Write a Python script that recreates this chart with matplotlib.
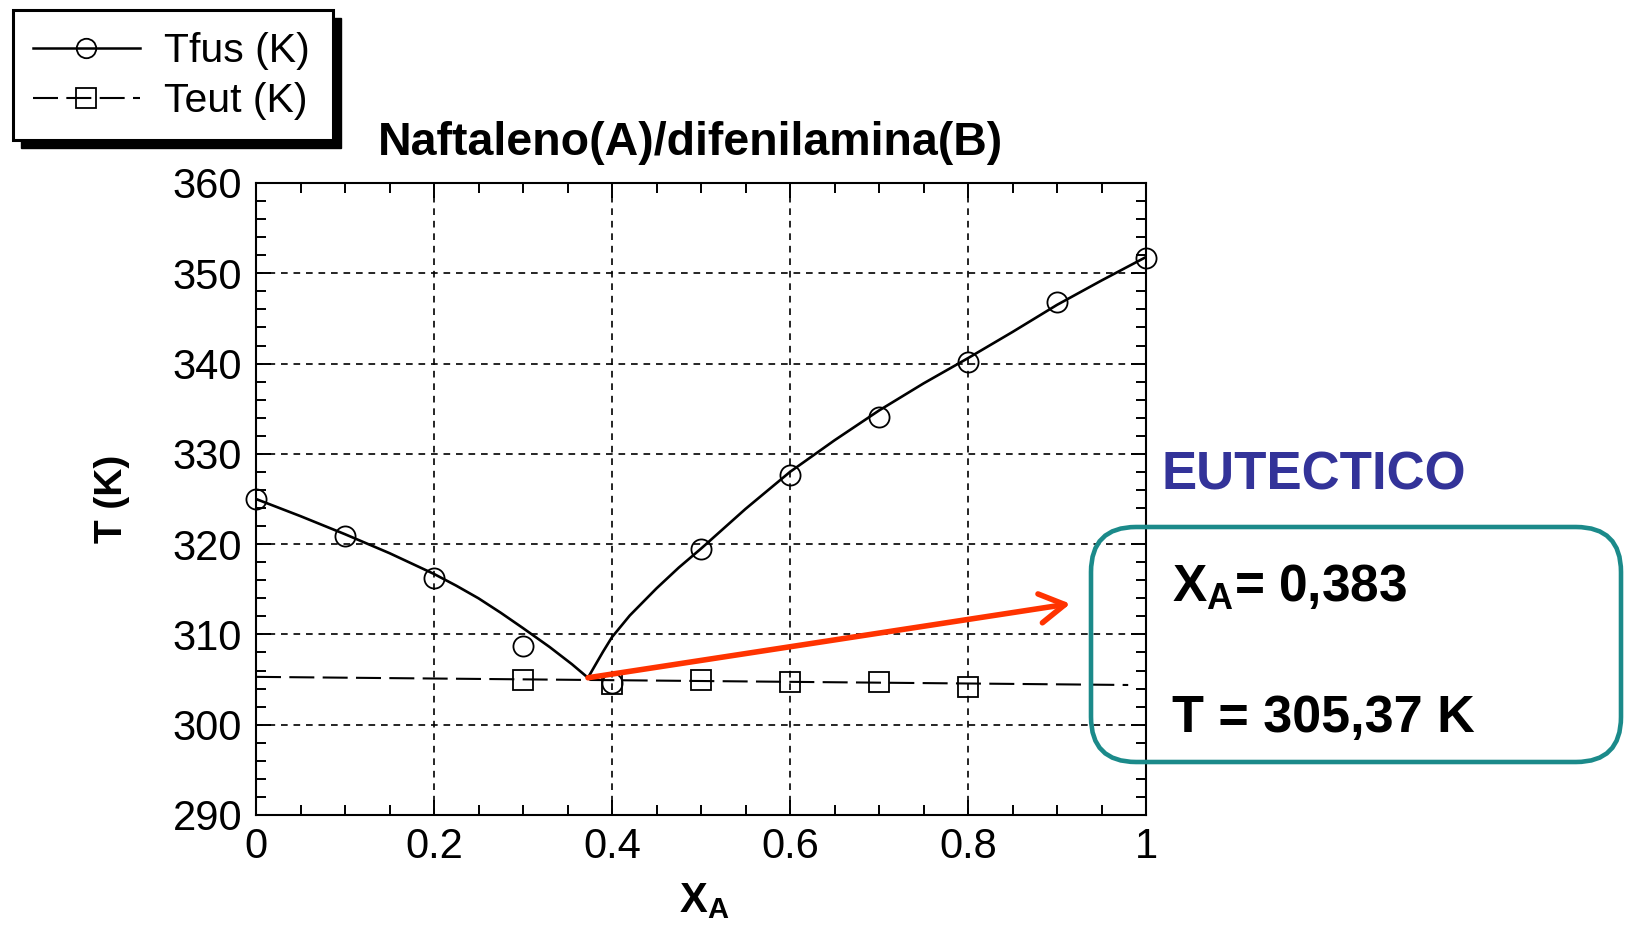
import matplotlib
matplotlib.use('Agg')
import matplotlib.pyplot as plt
from matplotlib.lines import Line2D
from matplotlib.patches import Rectangle, FancyBboxPatch
from matplotlib.ticker import MultipleLocator

plt.rcParams['font.family'] = ['Liberation Sans', 'DejaVu Sans']
plt.rcParams['mathtext.fontset'] = 'custom'
plt.rcParams['mathtext.rm'] = 'Liberation Sans'
plt.rcParams['mathtext.bf'] = 'Liberation Sans:bold'

# experimental melting points (circles)
xA_fus = [0.0, 0.1, 0.2, 0.3, 0.4, 0.5, 0.6, 0.7, 0.8, 0.9, 1.0]
T_fus = [325.0, 320.9, 316.2, 308.7, 304.6, 319.5, 327.7, 334.1, 340.2, 346.8, 351.7]

# eutectic temperatures (squares)
xA_eut = [0.3, 0.4, 0.5, 0.6, 0.7, 0.8]
T_eut = [305.0, 304.5, 305.0, 304.7, 304.7, 304.2]

# liquidus curves
xA_left = [0.0, 0.05, 0.1, 0.15, 0.2, 0.225, 0.25, 0.275, 0.3, 0.33, 0.355, 0.373]
T_left = [325.0, 323.1, 321.1, 319.0, 316.7, 315.4, 314.0, 312.4, 310.7, 308.6, 306.7, 305.2]
xA_right = [0.373, 0.38, 0.39, 0.4, 0.42, 0.45, 0.475, 0.5, 0.55, 0.6, 0.65, 0.7,
            0.75, 0.8, 0.85, 0.9, 0.95, 1.0]
T_right = [305.2, 306.4, 308.1, 309.7, 312.1, 315.1, 317.4, 319.5, 323.9, 328.0, 331.5, 334.8,
           337.8, 340.6, 343.5, 346.5, 349.2, 351.8]

# eutectic line
xA_eline = [0.0, 0.98]
T_eline = [305.3, 304.4]

# arrow from eutectic point to the text box
arrow_from = (0.373, 305.2)
arrow_to = (0.915, 313.4)

xticks = [0, 0.2, 0.4, 0.6, 0.8, 1.0]
xtick_labels = ['0', '0.2', '0.4', '0.6', '0.8', '1']
yticks = [290, 300, 310, 320, 330, 340, 350, 360]

W, H = 1626, 932
fig = plt.figure(figsize=(W / 100, H / 100), dpi=100)


def fx(px):
    return px / W


def fy(py):
    return 1 - py / H


ax = fig.add_axes([fx(256), fy(815), fx(1146) - fx(256), fy(183) - fy(815)])

teut_dash = (12, 4)
ax.plot(xA_left, T_left, color='black', lw=1.9, solid_joinstyle='round')
ax.plot(xA_right, T_right, color='black', lw=1.9, solid_joinstyle='round')
ax.plot(xA_eline, T_eline, color='black', lw=1.5, dashes=teut_dash)
ax.plot(xA_fus, T_fus, 'o', ms=14.5, mfc='none', mec='black', mew=1.3, clip_on=False)
ax.plot(xA_eut, T_eut, 's', ms=14.5, mfc='none', mec='black', mew=1.3)

ax.annotate('', xy=arrow_to, xytext=arrow_from,
            arrowprops=dict(arrowstyle='->,head_length=0.6,head_width=0.35',
                            color='#ff3300', lw=4, mutation_scale=30,
                            shrinkA=0, shrinkB=0, capstyle='round', joinstyle='round'),
            annotation_clip=False)

ax.set_xlim(0, 1)
ax.set_ylim(290, 360)
ax.set_xticks(xticks)
ax.set_xticklabels(xtick_labels)
ax.set_yticks(yticks)
ax.xaxis.set_minor_locator(MultipleLocator(0.05))
ax.yaxis.set_minor_locator(MultipleLocator(2))
ax.tick_params(which='both', direction='in', top=True, right=True, width=1.4)
ax.tick_params(which='major', length=11, labelsize=30)
ax.tick_params(which='minor', length=7)
ax.tick_params(axis='x', pad=9)
ax.tick_params(axis='y', pad=10)
for s in ax.spines.values():
    s.set_linewidth(1.5)
ax.grid(True, which='major', color='black', lw=1.2, dashes=(4, 3.5))

ax.set_ylabel('T (K)', fontsize=28, fontweight='bold')
ax.yaxis.set_label_coords(-0.142, 0.5)

fig.text(fx(679), fy(912), r'$\mathbf{X}_\mathbf{A}$', fontsize=30, ha='left', va='baseline')
fig.text(fx(690), fy(155), 'Naftaleno(A)/difenilamina(B)', fontsize=33.5,
         fontweight='bold', ha='center', va='baseline')

# legend with a drop shadow, as in the scanned original
fig.add_artist(Rectangle((fx(21), fy(148)), fx(333) - fx(13), fy(10) - fy(140),
                         transform=fig.transFigure, fc='black', ec='black', zorder=1))
fig.add_artist(Rectangle((fx(13), fy(140)), fx(333) - fx(13), fy(10) - fy(140),
                         transform=fig.transFigure, fc='white', ec='black', lw=2.2, zorder=2))
handles = [
    Line2D([], [], color='black', lw=1.8, marker='o', ms=14, mfc='none', mec='black', mew=1.3),
    Line2D([], [], color='black', lw=1.5, dashes=teut_dash, marker='s', ms=14, mfc='none', mec='black', mew=1.3),
]
fig.legend(handles, ['Tfus (K)', 'Teut (K)'], loc='center left',
           bbox_to_anchor=(fx(33), fy(76)), frameon=False, fontsize=29.5,
           handlelength=2.6, handletextpad=0.6, labelspacing=0.3,
           borderpad=0, borderaxespad=0)

# eutectic annotation box
fig.text(fx(1161), fy(475), 'EUTECTICO', fontsize=38, fontweight='bold',
         color='#333399', ha='left', va='center')
fig.add_artist(FancyBboxPatch((10.91, (H - 762) / 100), (1621 - 1091) / 100, (762 - 527) / 100,
                              boxstyle='round,pad=0,rounding_size=0.45',
                              transform=fig.dpi_scale_trans, fc='none',
                              ec='#1b8a8a', lw=3.3))
fig.text(fx(1172), fy(602), r'$\mathbf{X}_\mathbf{A}$= 0,383', fontsize=37,
         fontweight='bold', ha='left', va='baseline')
fig.text(fx(1172), fy(732), 'T = 305,37 K', fontsize=37.5,
         fontweight='bold', ha='left', va='baseline')

fig.savefig('out.png', dpi=100)
